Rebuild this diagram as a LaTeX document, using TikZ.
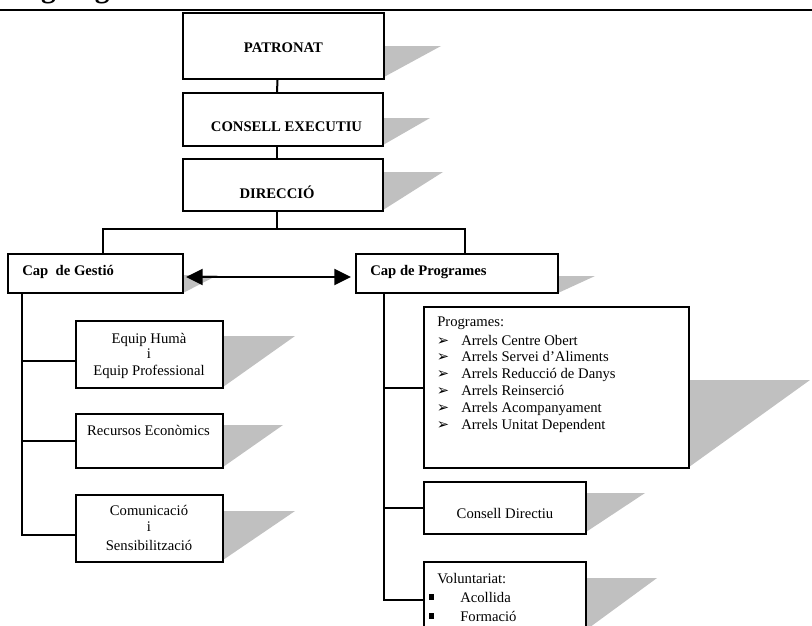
\documentclass[tikz,border=0pt]{standalone}
\usepackage{fontspec}
\setmainfont{Liberation Serif}
\newfontfamily\symfont{DejaVu Sans}
\usetikzlibrary{arrows.meta}
\definecolor{shadegray}{RGB}{192,192,192}
\begin{document}
\begin{tikzpicture}[x=0.75pt,y=-0.75pt,
  box/.style={draw=black, line width=1.6pt, fill=white, rectangle, inner sep=0pt},
  conn/.style={draw=black, line width=1.5pt},
  shadowtri/.style={fill=shadegray, draw=none},
  lbl/.style={inner sep=0pt, anchor=base, font=\fontsize{11}{13}\selectfont},
  blbl/.style={inner sep=0pt, anchor=base, font=\fontsize{11}{13}\selectfont\bfseries},
  arrowbul/.style={inner sep=0pt, anchor=base west, font=\fontsize{11}{12}\symfont},
  sqbul/.style={fill=black, draw=none, rectangle, inner sep=0pt, minimum size=4pt},
  dbl/.style={draw=black, line width=1.8pt, {Triangle[length=12.5pt,width=12pt]}-{Triangle[length=12.5pt,width=12pt]}}
]
\useasboundingbox (0,0) rectangle (812,625);

% title (cut off at the top) and rule
\node[inner sep=0pt, anchor=base west, font=\fontsize{22}{24}\selectfont\bfseries] (title) at (5,-2.5) {Organigrama};
\draw[line width=2pt] (0,10) -- (812,10);

% shadows
\fill[shadowtri] (384,46) -- (441,46) -- (384,77) -- cycle;
\fill[shadowtri] (383,118) -- (430,118) -- (383,145) -- cycle;
\fill[shadowtri] (383,172) -- (443,172) -- (383,210) -- cycle;
\fill[shadowtri] (183,275) -- (218,275) -- (183,293) -- cycle;
\fill[shadowtri] (558,276) -- (595,276) -- (558,293) -- cycle;
\fill[shadowtri] (223,336) -- (295,336) -- (223,387) -- cycle;
\fill[shadowtri] (223,425) -- (283,425) -- (223,467) -- cycle;
\fill[shadowtri] (223,511) -- (295,511) -- (223,560) -- cycle;
\fill[shadowtri] (689,380) -- (810,380) -- (689,467) -- cycle;
\fill[shadowtri] (586,493) -- (645,493) -- (586,532) -- cycle;
\fill[shadowtri] (586,578) -- (657,578) -- (586,630) -- cycle;

% boxes
\node[box, minimum width=150.75pt, minimum height=49.5pt] (pat) at (283.5,46) {};
\node[box, minimum width=150pt, minimum height=39.75pt] (ce) at (283,119.5) {};
\node[box, minimum width=150pt, minimum height=39pt] (dir) at (283,185) {};
\node[box, minimum width=131.25pt, minimum height=29.25pt] (capg) at (95.5,273.5) {};
\node[box, minimum width=151.5pt, minimum height=29.25pt] (capp) at (457,273.5) {};
\node[box, minimum width=110.25pt, minimum height=50.25pt] (equip) at (149.5,354.5) {};
\node[box, minimum width=110.25pt, minimum height=40.5pt] (rec) at (149.5,441) {};
\node[box, minimum width=110.25pt, minimum height=50.25pt] (com) at (149.5,528.5) {};
\node[box, minimum width=198.75pt, minimum height=120.75pt] (prog) at (556.5,387.5) {};
\node[box, minimum width=121.5pt, minimum height=39pt] (cd) at (505,508) {};
\node[box, minimum width=121.5pt, minimum height=57pt] (vol) at (505,600) {};

% connectors
\draw[conn] ([xshift=-4.5pt]pat.south) -- ([xshift=-4.5pt]ce.north);
\draw[conn] ([xshift=-4.5pt]ce.south) -- ([xshift=-4.5pt]dir.north);
\draw[conn] ([xshift=-4.5pt]dir.south) -- ++(0,17) -| ([xshift=5.6pt]capg.north);
\draw[conn] ([xshift=-4.5pt]dir.south) ++(0,17) -| ([xshift=6pt]capp.north);
\draw[dbl, shorten <=1.5pt, shorten >=3pt] ([yshift=-2.6pt]capg.east) -- ([yshift=-2.6pt]capp.west);

\coordinate (tl) at ([xshift=-55.1pt]capg.south);
\draw[conn] (tl) |- ([yshift=-4.9pt]equip.west);
\draw[conn] (tl) |- (rec.west);
\draw[conn] (tl) |- ([yshift=-4.9pt]com.west);

\coordinate (tr) at ([xshift=-54.75pt]capp.south);
\draw[conn] (tr) |- (prog.west);
\draw[conn] (tr) |- (cd.west);
\draw[conn] (tr) |- (vol.west);

% texts
\node[blbl] (patT) at (283.5,52) {PATRONAT};
\node[blbl] (ceT) at (286.5,131.5) {CONSELL EXECUTIU};
\node[blbl] (dirT) at (277,198) {DIRECCIÓ};
\node[blbl, anchor=base west] (capgT) at (22,275) {Cap\ \ de Gestió};
\node[blbl, anchor=base west] (cappT) at (370,275) {Cap de Programes};

\node[lbl] (eq1) at (149,343) {Equip Humà};
\node[lbl] (eq2) at (149,358.5) {i};
\node[lbl] (eq3) at (149,375) {Equip Professional};
\node[lbl] (recT) at (148.5,435) {Recursos Econòmics};
\node[lbl] (co1) at (149,515) {Comunicació};
\node[lbl] (co2) at (149,531) {i};
\node[lbl] (co3) at (149,550) {Sensibilització};

\node[lbl, anchor=base west] (progT) at (437,326.7) {Programes:};
\foreach \t [count=\i] in {Arrels Centre Obert, Arrels Servei d’Aliments, Arrels Reducció de Danys, Arrels Reinserció, Arrels Acompanyament, Arrels Unitat Dependent}{
  \node[arrowbul] (pb\i) at (436.5,{345+16.8*(\i-1)}) {➢};
  \node[lbl, anchor=base west] (pi\i) at (461,{345+16.8*(\i-1)}) {\t};
}
\node[lbl] (cdT) at (505,518) {Consell Directiu};
\node[lbl, anchor=base west] (volT) at (437,583) {Voluntariat:};
\node[sqbul] (vb1) at (431.5,597) {};
\node[lbl, anchor=base west] (vi1) at (460,602) {Acollida};
\node[sqbul] (vb2) at (431.5,616) {};
\node[lbl, anchor=base west] (vi2) at (460,621) {Formació};
\end{tikzpicture}
\end{document}
